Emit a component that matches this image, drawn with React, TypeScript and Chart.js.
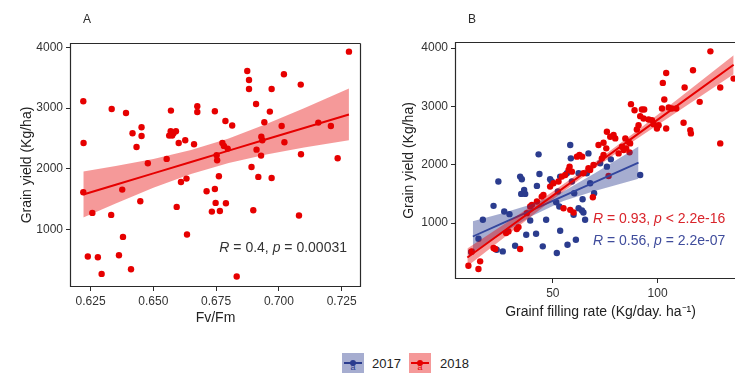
import React, { useEffect, useRef } from "react";
import { Chart, registerables } from "chart.js";
Chart.register(...registerables);

// ---------- Panel A data (Fv/Fm vs grain yield, 2018) ----------
const A_X = [0.6221,0.6222,0.6221,0.6257,0.6239,0.6279,0.6294,0.6334,0.6332,0.6376,0.6379,0.6363,0.6411,0.6391,0.6417,0.6433,0.6453,0.6453,0.6448,0.6478,0.6553,0.6570,0.6569,0.6580,0.6590,0.6575,0.6563,0.6601,0.6627,0.6610,0.6593,0.6632,0.6634,0.6662,0.6675,0.6675,0.6712,0.6733,0.6745,0.6748,0.6745,0.6752,0.6754,0.6761,0.6765,0.6775,0.6781,0.6789,0.6787,0.6796,0.6814,0.6832,0.6874,0.6881,0.6881,0.6909,0.6891,0.6898,0.6911,0.6918,0.6929,0.6930,0.6934,0.6942,0.6964,0.6971,0.6971,0.7011,0.7020,0.7022,0.7087,0.7088,0.7080,0.7157,0.7207,0.7234,0.7279];
const A_Y = [3112,2426,1614,1275,556,545,271,2985,1242,1658,880,578,348,2920,2585,2360,2684,2541,1466,2092,2163,2958,2618,2585,2618,2547,2547,2426,2470,1784,1373,1839,918,2404,3029,2936,1631,1296,1669,1439,2947,2223,2141,1877,1307,2426,2377,1434,2788,2333,2712,227,3611,3463,3315,3068,2031,1318,2316,1867,2218,2530,2470,2766,2942,3315,1850,2706,3556,2437,3386,2240,1231,2761,2706,2174,3929];
const A_BAND_X = [0.6221,0.635,0.65,0.665,0.68,0.695,0.71,0.7279];
const A_FIT = [1577,1738,1925,2112,2299,2486,2673,2895];
const A_LO = [1198,1430,1687,1915,2097,2236,2349,2469];
const A_HI = [1956,2046,2163,2309,2501,2736,2997,3321];
const A_XTICKS = [0.625,0.65,0.675,0.7,0.725];
const Y_TICKS = [1000,2000,3000,4000];

// ---------- Panel B data (grain filling rate vs grain yield) ----------
const B17_X = [11.0,14.5,16.6,21.7,24.0,26.8,29.3,23.2,26.1,32.0,34.9,36.8,36.3,34.4,35.2,37.3,39.2,42.0,42.4,43.6,43.2,45.2,46.8,48.7,49.5,51.6,51.9,53.5,53.5,57.0,58.3,58.6,56.7,59.1,61.0,62.3,63.9,64.6,64.2,65.4,69.7,67.0,62.3,66.2,67.8,72.6,77.7,75.8,91.7,53.1,52.4,60.2,59.9];
const B17_Y = [505,732,1057,1296,1712,1199,1154,545,516,613,1501,1501,1569,1797,1751,801,1046,818,1638,1842,2178,602,1057,1751,1712,1359,488,869,1797,630,2338,2110,1854,1712,715,1256,1216,1182,1410,1057,1512,2195,1854,1854,1683,2025,2093,1968,1825,1285,1541,1512,1142];
const B18_X = [9.7,14.5,15.3,11.3,21.7,22.5,27.7,28.8,32.8,33.6,34.4,37.6,39.2,40.0,42.4,44.7,45.5,48.7,50.3,52.7,54.3,55.9,57.5,59.1,55.1,58.3,59.9,61.5,62.7,64.0,64.6,67.0,69.1,69.4,67.8,71.8,73.4,74.2,74.2,75.5,76.6,75.8,77.4,79.0,79.8,81.4,83.0,83.8,85.0,84.6,86.1,86.9,86.6,87.3,89.0,90.1,90.9,91.7,92.5,93.6,93.3,95.7,97.3,98.1,99.7,100.5,102.1,102.5,104.1,103.2,104.1,105.3,106.8,108.9,112.4,112.9,115.6,115.9,116.9,120.1,125.2,129.9,129.9,136.3,58.0];
const B18_Y = [271,214,345,516,573,556,829,858,898,932,556,1171,1285,1313,1370,1455,1484,1626,1683,1712,1797,1825,1911,1882,1256,1228,1182,2139,2167,2139,1854,1939,1444,1996,1911,2338,2110,2167,2378,2281,1808,2565,2480,2509,2452,2195,2309,2252,2281,2452,2395,2366,2213,3038,2935,2605,2679,2833,2947,2947,2793,2776,2765,2696,2622,2679,2964,3402,3573,3118,2622,2981,2964,2964,2719,3323,2594,2537,3619,3078,3943,3323,2366,3476,1968];
const B17_BAND_X = [11.8,25,40,55,70,90.9];
const B17_FIT = [771,982,1222,1462,1702,2036];
const B17_LO = [511,802,1122,1380,1551,1761];
const B17_HI = [1031,1162,1322,1544,1853,2311];
const B18_BAND_X = [9.2,30,50,70,90,110,136.3];
const B18_FIT = [412,952,1472,1991,2511,3030,3714];
const B18_LO = [260,845,1403,1941,2442,2923,3551];
const B18_HI = [564,1059,1541,2041,2580,3137,3877];
const B_XTICKS = [50,100];

const SERIES = ["2017", "2018"];
const LABEL_A = "A";
const LABEL_B = "B";
const STAT_A = [["R", true], [" = 0.4, ", false], ["p", true], [" = 0.00031", false]];
const STAT_B18 = [["R", true], [" = 0.93, ", false], ["p", true], [" < 2.2e-16", false]];
const STAT_B17 = [["R", true], [" = 0.56, ", false], ["p", true], [" = 2.2e-07", false]];

const FONT = "'Liberation Sans', Arial, Helvetica, sans-serif";
const RED = "#E60000";
const RED_BAND = "rgba(230,0,0,0.4)";
const RED_TEXT = "#D9242B";
const BLUE = "#2B3C8E";
const BLUE_LINE = "#34479E";
const BLUE_BAND = "rgba(43,60,142,0.42)";
const BLUE_TEXT = "#3F4C9C";
const INK = "#2a2a2a";

const pts = (xs: number[], ys: number[]) => xs.map((x, i) => ({ x, y: ys[i] }));

function drawRich(ctx: CanvasRenderingContext2D, parts: any[], x: number, y: number, align: string, color: string, size: number) {
  let total = 0;
  const widths = parts.map(([t, it]) => {
    ctx.font = `${it ? "italic " : ""}${size}px ${FONT}`;
    const w = ctx.measureText(t).width;
    total += w;
    return w;
  });
  let cx = align === "right" ? x - total : x;
  ctx.fillStyle = color;
  ctx.textBaseline = "middle";
  ctx.textAlign = "left";
  parts.forEach(([t, it], i) => {
    ctx.font = `${it ? "italic " : ""}${size}px ${FONT}`;
    ctx.fillText(t, cx, y);
    cx += widths[i];
  });
}

function makeDecor(label: string, stats: { parts: any[]; dx: number; y: number; align: string; color: string }[], right: boolean) {
  return {
    id: "decor" + label,
    afterDatasetsDraw(chart: any) {
      const { ctx, chartArea: a } = chart;
      ctx.save();
      ctx.strokeStyle = INK;
      ctx.lineWidth = 1.2;
      const l = Math.round(a.left) + 0.5, t = Math.round(a.top) + 0.5;
      const r = Math.round(a.right) - 0.5, b = Math.round(a.bottom) - 0.5;
      ctx.beginPath();
      ctx.moveTo(r, t); ctx.lineTo(l, t); ctx.lineTo(l, b); ctx.lineTo(r, b);
      if (right) ctx.lineTo(r, t);
      ctx.stroke();
      stats.forEach((s) => {
        const x = s.align === "right" ? a.right - s.dx : a.left + s.dx;
        drawRich(ctx, s.parts, x, s.y, s.align, s.color, 14);
      });
      ctx.fillStyle = INK;
      ctx.font = `12px ${FONT}`;
      ctx.textAlign = "left";
      ctx.textBaseline = "middle";
      ctx.fillText(label, a.left + 13, 20);
      ctx.restore();
    },
  };
}

function axis(min: number, max: number, ticks: number[], fmt: (v: number) => string, size: number, isY: boolean, title: string, titlePad: any) {
  return {
    type: "linear",
    min,
    max,
    afterBuildTicks: (s: any) => { s.ticks = ticks.map((v) => ({ value: v })); },
    afterFit: (s: any) => { if (isY) s.width = size; else s.height = size; },
    grid: { display: true, drawOnChartArea: false, drawTicks: true, tickLength: 4, color: INK, lineWidth: 1 },
    border: { display: false },
    ticks: { color: "#333", font: { family: FONT, size: 12 }, padding: 3, autoSkip: false, maxRotation: 0, callback: (v: any) => fmt(Number(v)) },
    title: { display: true, text: title, color: "#222", font: { family: FONT, size: 14 }, padding: titlePad },
  };
}

const baseOpts = {
  responsive: false,
  animation: false,
  events: [],
  plugins: { legend: { display: false }, tooltip: { enabled: false } },
};

function PanelA() {
  const ref = useRef<HTMLCanvasElement>(null);
  useEffect(() => {
    const chart = new Chart(ref.current!, {
      type: "scatter",
      data: {
        datasets: [
          { type: "scatter", data: pts(A_X, A_Y), backgroundColor: RED, borderWidth: 0, pointRadius: 3.2, order: 3 },
          { type: "line", data: pts(A_BAND_X, A_LO), borderWidth: 0, pointRadius: 0, fill: false, order: 2 },
          { type: "line", data: pts(A_BAND_X, A_HI), borderWidth: 0, pointRadius: 0, fill: "-1", backgroundColor: RED_BAND, order: 2 },
          { type: "line", data: pts(A_BAND_X, A_FIT), borderColor: RED, borderWidth: 2, pointRadius: 0, fill: false, order: 1 },
        ],
      } as any,
      options: {
        ...baseOpts,
        layout: { padding: { top: 43, right: 9, left: 0, bottom: 0 } },
        scales: {
          x: axis(0.6168, 0.7327, A_XTICKS, (v) => v.toFixed(3), 43, false, "Fv/Fm", { top: 0, bottom: 3 }),
          y: axis(55, 4071, Y_TICKS, (v) => String(v), 70, true, "Grain yield (Kg/ha)", { top: 19, bottom: 0 }),
        },
      } as any,
      plugins: [makeDecor(LABEL_A, [{ parts: STAT_A, dx: 14, y: 248, align: "right", color: "#333" }], true)],
    });
    return () => chart.destroy();
  }, []);
  return <canvas ref={ref} width={370} height={330} style={{ position: "absolute", left: 0, top: 0, width: 370, height: 330 }} />;
}

function PanelB() {
  const ref = useRef<HTMLCanvasElement>(null);
  useEffect(() => {
    const chart = new Chart(ref.current!, {
      type: "scatter",
      data: {
        datasets: [
          { type: "scatter", data: pts(B17_X, B17_Y), backgroundColor: BLUE, borderWidth: 0, pointRadius: 3.2, order: 8 },
          { type: "scatter", data: pts(B18_X, B18_Y), backgroundColor: RED, borderWidth: 0, pointRadius: 3.2, order: 7 },
          { type: "line", data: pts(B17_BAND_X, B17_LO), borderWidth: 0, pointRadius: 0, fill: false, order: 6 },
          { type: "line", data: pts(B17_BAND_X, B17_HI), borderWidth: 0, pointRadius: 0, fill: "-1", backgroundColor: BLUE_BAND, order: 6 },
          { type: "line", data: pts(B17_BAND_X, B17_FIT), borderColor: BLUE_LINE, borderWidth: 1.8, pointRadius: 0, fill: false, order: 5 },
          { type: "line", data: pts(B18_BAND_X, B18_LO), borderWidth: 0, pointRadius: 0, fill: false, order: 4 },
          { type: "line", data: pts(B18_BAND_X, B18_HI), borderWidth: 0, pointRadius: 0, fill: "-1", backgroundColor: RED_BAND, order: 4 },
          { type: "line", data: pts(B18_BAND_X, B18_FIT), borderColor: RED, borderWidth: 2, pointRadius: 0, fill: false, order: 3 },
        ],
      } as any,
      options: {
        ...baseOpts,
        layout: { padding: { top: 42, right: 14, left: 0, bottom: 0 } },
        scales: {
          x: axis(3.3, 142.2, B_XTICKS, (v) => String(v), 51, false, "Grainf filling rate (Kg/day. ha\u207B\u00B9)", { top: 0, bottom: 9 }),
          y: axis(43, 4103, Y_TICKS, (v) => String(v), 85, true, "Grain yield (Kg/ha)", { top: 31, bottom: 0 }),
        },
      } as any,
      plugins: [makeDecor(LABEL_B, [
        { parts: STAT_B18, dx: 138, y: 219, align: "left", color: RED_TEXT },
        { parts: STAT_B17, dx: 138, y: 241, align: "left", color: BLUE_TEXT },
      ], true)],
    });
    return () => chart.destroy();
  }, []);
  return <canvas ref={ref} width={390} height={330} style={{ position: "absolute", left: 370, top: 0, width: 390, height: 330 }} />;
}

function LegendKey({ left, color, band }: { left: number; color: string; band: string }) {
  return (
    <div style={{ position: "absolute", left, top: 353, width: 22, height: 20, background: band }}>
      <div style={{ position: "absolute", left: 2, right: 2, top: 9, height: 2, background: color }} />
      <div style={{ position: "absolute", left: 8, top: 7, width: 6, height: 6, borderRadius: 3, background: color }} />
      <div style={{ position: "absolute", left: 0, width: 22, top: 9, textAlign: "center", fontFamily: FONT, fontSize: 9, lineHeight: "10px", color }}>a</div>
    </div>
  );
}

export default function App() {
  return (
    <div style={{ position: "absolute", left: 0, top: 0, width: 735, height: 374, overflow: "hidden", background: "#fff" }}>
      <PanelA />
      <PanelB />
      <LegendKey left={342} color={BLUE} band={BLUE_BAND} />
      <div style={{ position: "absolute", left: 372, top: 356, fontFamily: FONT, fontSize: 13, lineHeight: "15px", color: "#222" }}>{SERIES[0]}</div>
      <LegendKey left={409} color={RED} band={RED_BAND} />
      <div style={{ position: "absolute", left: 440, top: 356, fontFamily: FONT, fontSize: 13, lineHeight: "15px", color: "#222" }}>{SERIES[1]}</div>
    </div>
  );
}
